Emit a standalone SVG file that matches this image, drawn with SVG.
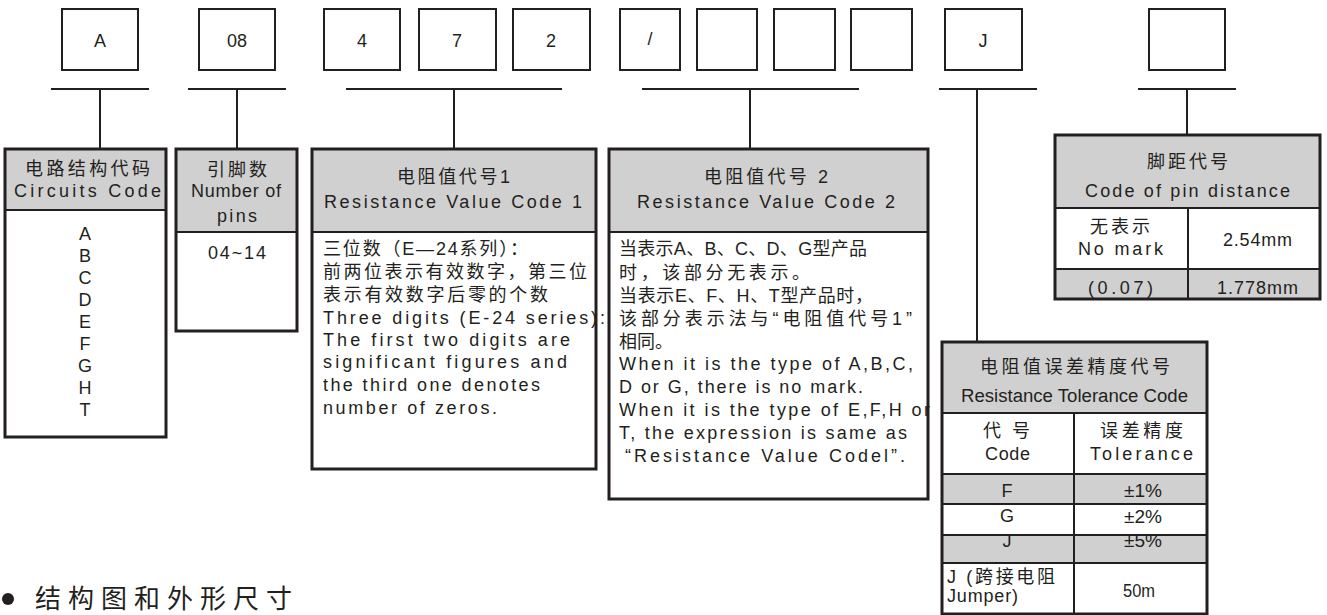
<svg xmlns="http://www.w3.org/2000/svg" width="1327" height="615" viewBox="0 0 1327 615">
<style>
.b{fill:#fff;stroke:#231f20;stroke-width:2}
.o{fill:none;stroke:#231f20;stroke-width:3}
.g{fill:#d1d0d0;stroke:#231f20;stroke-width:2}
.w{fill:#fff;stroke:#231f20;stroke-width:2}
.l{stroke:#231f20;stroke-width:2;fill:none}
text{font-family:"Liberation Sans","Noto Sans CJK SC",sans-serif;fill:#231f20;font-size:18px}
.c{text-anchor:middle}
.z{font-size:18px}
</style>
<rect width="1327" height="615" fill="#fff"/>
<g id="top-boxes">
<rect class="b" x="62" y="9" width="76" height="61"/><text class="c" x="100" y="47">A</text>
<rect class="b" x="199" y="9" width="76" height="61"/><text class="c" x="237" y="47">08</text>
<rect class="b" x="324" y="9" width="76" height="61"/><text class="c" x="362" y="47">4</text>
<rect class="b" x="419" y="9" width="77" height="61"/><text class="c" x="457" y="47">7</text>
<rect class="b" x="513" y="9" width="77" height="61"/><text class="c" x="551" y="47">2</text>
<rect class="b" x="620" y="9" width="60" height="61"/><text class="c" x="650" y="45">/</text>
<rect class="b" x="697" y="9" width="60" height="61"/>
<rect class="b" x="774" y="9" width="61" height="61"/>
<rect class="b" x="851" y="9" width="61" height="61"/>
<rect class="b" x="945" y="9" width="77" height="61"/><text class="c" x="983" y="47">J</text>
<rect class="b" x="1149" y="9" width="76" height="61"/>
</g>
<g id="connectors">
<path class="l" d="M51 89H149M100 89V148"/>
<path class="l" d="M188 89H286M237 89V148"/>
<path class="l" d="M346 89H562M454 89V148"/>
<path class="l" d="M642 89H859M750 89V148"/>
<path class="l" d="M939 89H1037M977 89V342"/>
<path class="l" d="M1138 89H1236M1187 89V135"/>
</g>
<g id="circuits-code">
<rect class="g" x="5" y="149" width="161" height="61"/>
<rect class="w" x="5" y="210" width="161" height="227"/>
<rect class="o" x="5" y="149" width="161" height="288"/>
<text class="z" x="25" y="175" textLength="125" lengthAdjust="spacing">电路结构代码</text>
<text x="14" y="197" textLength="147" lengthAdjust="spacing">Circuits Code</text>
<text class="c" x="85" y="240">A</text>
<text class="c" x="85" y="262">B</text>
<text class="c" x="85" y="284">C</text>
<text class="c" x="85" y="306">D</text>
<text class="c" x="85" y="328">E</text>
<text class="c" x="85" y="350">F</text>
<text class="c" x="85" y="372">G</text>
<text class="c" x="85" y="394">H</text>
<text class="c" x="85" y="416">T</text>
</g>
<g id="pins">
<rect class="g" x="176" y="149" width="121" height="83"/>
<rect class="w" x="176" y="232" width="121" height="99"/>
<rect class="o" x="176" y="149" width="121" height="182"/>
<text class="z" x="207" y="176" textLength="60" lengthAdjust="spacing">引脚数</text>
<text x="191" y="197" textLength="90" lengthAdjust="spacing">Number of</text>
<text x="217" y="222" textLength="40" lengthAdjust="spacing">pins</text>
<text x="208" y="259" textLength="58" lengthAdjust="spacing">04~14</text>
</g>
<g id="resistance-1">
<rect class="g" x="312" y="149" width="284" height="83"/>
<rect class="w" x="312" y="232" width="284" height="237"/>
<rect class="o" x="312" y="149" width="284" height="320"/>
<text class="z" x="397" y="183" textLength="113" lengthAdjust="spacing">电阻值代号1</text>
<text x="324" y="208" textLength="258" lengthAdjust="spacing">Resistance Value Code 1</text>
<text x="323" y="255" textLength="205" lengthAdjust="spacing">三位数（E—24系列）：</text>
<text x="323" y="278" textLength="264" lengthAdjust="spacing">前两位表示有效数字，第三位</text>
<text x="323" y="301" textLength="225" lengthAdjust="spacing">表示有效数字后零的个数</text>
<text x="323" y="324" textLength="282" lengthAdjust="spacing">Three digits (E-24 series):</text>
<text x="323" y="346" textLength="247" lengthAdjust="spacing">The first two digits are</text>
<text x="323" y="368" textLength="244" lengthAdjust="spacing">significant figures and</text>
<text x="323" y="391" textLength="217" lengthAdjust="spacing">the third one denotes</text>
<text x="323" y="414" textLength="174" lengthAdjust="spacing">number of  zeros.</text>
</g>
<g id="resistance-2">
<rect class="g" x="609" y="149" width="319" height="83"/>
<rect class="w" x="609" y="232" width="319" height="267"/>
<rect class="o" x="609" y="149" width="319" height="350"/>
<text class="z" x="704" y="183" textLength="124" lengthAdjust="spacing">电阻值代号 2</text>
<text x="637" y="208" textLength="258" lengthAdjust="spacing">Resistance Value Code 2</text>
<text x="619" y="255" textLength="248" lengthAdjust="spacing">当表示A、B、C、D、G型产品</text>
<text x="619" y="279" textLength="191" lengthAdjust="spacing">时，该部分无表示。</text>
<text x="619" y="302" textLength="254" lengthAdjust="spacing">当表示E、F、H、T型产品时，</text>
<text x="619" y="325" textLength="293" lengthAdjust="spacing">该部分表示法与“电阻值代号1”</text>
<text x="619" y="348">相同。</text>
<text x="619" y="370" textLength="294" lengthAdjust="spacing">When it is the type of A,B,C,</text>
<text x="619" y="393" textLength="244" lengthAdjust="spacing">D or G, there is no mark.</text>
<text x="619" y="416" textLength="311" lengthAdjust="spacing">When it is the type of E,F,H or</text>
<text x="619" y="439" textLength="288" lengthAdjust="spacing">T, the expression is same as</text>
<text x="625" y="462" textLength="280" lengthAdjust="spacing">“Resistance  Value Codel”.</text>
</g>
<g id="pin-distance">
<rect class="g" x="1055" y="135" width="265" height="73"/>
<rect class="w" x="1055" y="208" width="265" height="61"/>
<rect class="g" x="1055" y="269" width="265" height="30"/>
<path class="l" d="M1188 208V299"/>
<rect class="o" x="1055" y="135" width="265" height="164"/>
<text class="z" x="1147" y="168" textLength="81" lengthAdjust="spacing">脚距代号</text>
<text x="1085" y="197" textLength="205" lengthAdjust="spacing">Code of pin distance</text>
<text class="z" x="1090" y="233" textLength="60" lengthAdjust="spacing">无表示</text>
<text x="1078" y="255" textLength="85" lengthAdjust="spacing">No mark</text>
<text x="1223" y="246" textLength="69" lengthAdjust="spacing">2.54mm</text>
<text x="1088" y="294" textLength="65" lengthAdjust="spacing">(0.07)</text>
<text x="1217" y="294" textLength="81" lengthAdjust="spacing">1.778mm</text>
</g>
<g id="tolerance">
<rect class="g" x="942" y="342" width="265" height="71"/>
<rect class="w" x="942" y="413" width="265" height="61"/>
<rect class="g" x="942" y="474" width="265" height="30"/>
<rect class="w" x="942" y="504" width="265" height="31"/>
<rect class="g" x="942" y="535" width="265" height="28"/>
<rect class="w" x="942" y="563" width="265" height="51"/>
<path class="l" d="M1074 413V614"/>
<rect class="o" x="942" y="342" width="265" height="272"/>
<text class="z" x="980" y="373" textLength="190" lengthAdjust="spacing">电阻值误差精度代号</text>
<text x="961" y="402" textLength="227" lengthAdjust="spacingAndGlyphs">Resistance Tolerance Code</text>
<text class="z" x="983" y="437" textLength="47" lengthAdjust="spacing">代 号</text>
<text x="985" y="460" textLength="45" lengthAdjust="spacing">Code</text>
<text class="z" x="1100" y="437" textLength="83" lengthAdjust="spacing">误差精度</text>
<text x="1090" y="460" textLength="103" lengthAdjust="spacing">Tolerance</text>
<text class="c" x="1007" y="497">F</text>
<text x="1124" y="497" textLength="38" lengthAdjust="spacingAndGlyphs">±1%</text>
<text class="c" x="1007" y="522">G</text>
<text x="1124" y="523" textLength="38" lengthAdjust="spacingAndGlyphs">±2%</text>
<text class="c" x="1007" y="547">J</text>
<text x="1124" y="547" textLength="38" lengthAdjust="spacingAndGlyphs">±5%</text>
<text x="947" y="583" textLength="108" lengthAdjust="spacing">J (跨接电阻</text>
<text x="947" y="602" textLength="71" lengthAdjust="spacing">Jumper)</text>
<text x="1123" y="597" textLength="32" lengthAdjust="spacingAndGlyphs">50m</text>
</g>
<g id="section-title">
<circle cx="8" cy="599" r="6" fill="#231f20"/>
<text x="35" y="608" style="font-size:26px" textLength="257" lengthAdjust="spacing">结构图和外形尺寸</text>
</g>
</svg>
